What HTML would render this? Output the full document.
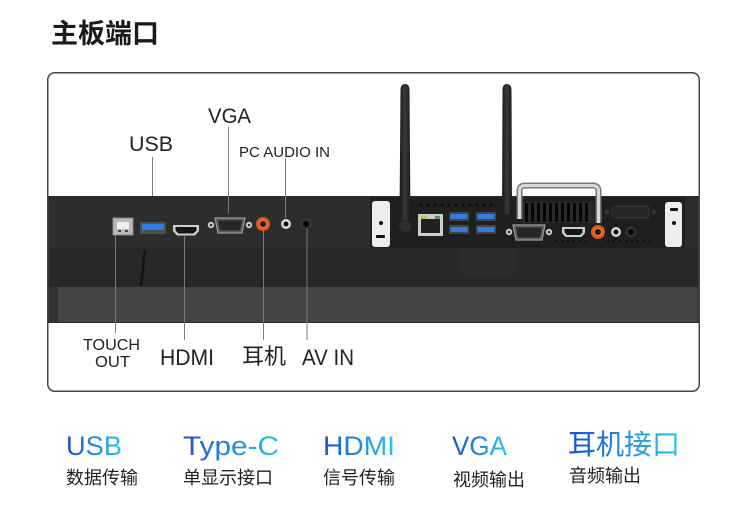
<!DOCTYPE html>
<html><head><meta charset="utf-8"><style>
html,body{margin:0;padding:0;background:#fff;width:750px;height:520px;overflow:hidden}
svg{display:block}
text{font-family:"Liberation Sans","Noto Sans CJK SC",sans-serif}
</style></head><body>
<svg width="750" height="520" viewBox="0 0 750 520" xmlns="http://www.w3.org/2000/svg">
<defs>
<linearGradient id="g" x1="0" x2="1" y1="0" y2="0"><stop offset="0" stop-color="#1a4fd6"/><stop offset="1" stop-color="#2cc6ec"/></linearGradient>
<linearGradient id="ant" x1="0" x2="1" y1="0" y2="0"><stop offset="0" stop-color="#1a1a1a"/><stop offset="0.5" stop-color="#3a3a3a"/><stop offset="1" stop-color="#1a1a1a"/></linearGradient>
<clipPath id="pc"><rect x="47" y="72" width="653" height="320" rx="7"/></clipPath>
</defs>

<text x="51" y="43" font-size="27" font-weight="bold" fill="#1a1a1a">主板端口</text>

<g clip-path="url(#pc)">
  <rect x="47" y="196" width="653" height="127" fill="#2d2d2d"/>
  <rect x="47" y="248" width="653" height="39" fill="#282828"/>
  <rect x="47" y="287" width="653" height="35" fill="#333"/>
  <rect x="58" y="287" width="639" height="35" fill="#444"/>
  <line x1="145" y1="250" x2="141" y2="286" stroke="#141414" stroke-width="2.5"/>
  <rect x="460" y="248" width="57" height="28" fill="#2b2b2b"/>
  <!-- module recess -->
  <rect x="370" y="197" width="315" height="51" fill="#1f1f1f"/>
</g>
<rect x="47.75" y="72.75" width="651.5" height="318.5" rx="7" fill="none" stroke="#444" stroke-width="1.5"/>

<!-- left ports -->
<rect x="113" y="218" width="20" height="17" fill="#b9b9b9" stroke="#8a8a8a"/>
<rect x="117" y="222" width="12" height="7" fill="#eee"/>
<rect x="118" y="230" width="3" height="2" fill="#444"/><rect x="125" y="230" width="3" height="2" fill="#444"/>
<rect x="140" y="222" width="26" height="12" rx="1" fill="#505050"/>
<rect x="142" y="224" width="22" height="6" fill="#2f7de0"/>
<path d="M173,225 h26 v6 l-4,4.5 h-18 l-4,-4.5 z" fill="#cfcfcf"/>
<path d="M175.5,227 h21 v3.5 l-3,3 h-15 l-3,-3 z" fill="#151515"/>
<circle cx="211" cy="225" r="3.2" fill="#ccc"/><circle cx="211" cy="225" r="1.3" fill="#333"/>
<circle cx="249" cy="225" r="3.2" fill="#ccc"/><circle cx="249" cy="225" r="1.3" fill="#333"/>
<path d="M215,218 h30 l-3,15 h-24 z" fill="#5a5a5a" stroke="#9a9a9a" stroke-width="1.2"/>
<path d="M218,220.5 h24 l-2,10 h-20 z" fill="#262626"/>
<circle cx="263" cy="224" r="7" fill="#e2581a"/><circle cx="263" cy="224" r="4.2" fill="#f08040"/><circle cx="263" cy="224" r="3" fill="#1a1a1a"/>
<circle cx="286" cy="224" r="5" fill="#dcdcdc"/><circle cx="286" cy="224" r="2.5" fill="#111"/>
<circle cx="306" cy="224" r="4.5" fill="#1a1a1a" stroke="#4a4a4a"/><circle cx="306" cy="224" r="2" fill="#000"/>

<!-- leader lines -->
<g stroke="#7a7a7a" stroke-width="1">
<line x1="152.5" y1="157" x2="152.5" y2="196"/>
<line x1="228.5" y1="127" x2="228.5" y2="214"/>
<line x1="285.5" y1="158" x2="285.5" y2="218"/>
<line x1="115.5" y1="235" x2="115.5" y2="333"/>
<line x1="184.5" y1="236" x2="184.5" y2="340"/>
<line x1="263.5" y1="231" x2="263.5" y2="340"/>
<line x1="307" y1="229" x2="307" y2="340"/>
</g>

<!-- labels -->
<g fill="#222">
<text x="208" y="123" font-size="21" textLength="43" lengthAdjust="spacingAndGlyphs">VGA</text>
<text x="129" y="151" font-size="21" textLength="44" lengthAdjust="spacingAndGlyphs">USB</text>
<text x="239" y="157" font-size="15" textLength="91" lengthAdjust="spacingAndGlyphs">PC AUDIO IN</text>
<text x="83" y="350" font-size="16" textLength="57" lengthAdjust="spacingAndGlyphs">TOUCH</text>
<text x="95" y="367" font-size="16" textLength="35" lengthAdjust="spacingAndGlyphs">OUT</text>
<text x="160" y="365" font-size="22" textLength="54" lengthAdjust="spacingAndGlyphs">HDMI</text>
<text x="242" y="364" font-size="22">耳机</text>
<text x="302" y="365" font-size="22" textLength="52" lengthAdjust="spacingAndGlyphs">AV IN</text>
</g>

<!-- right module -->
<rect x="372" y="201" width="18" height="46" rx="3" fill="#ececec"/>
<circle cx="381" cy="223" r="2" fill="#111"/>
<rect x="376" y="235" width="9" height="3" rx="1" fill="#111"/>
<rect x="665" y="202" width="17" height="45" rx="3" fill="#ececec"/>
<rect x="670" y="208" width="8" height="3" rx="1" fill="#111"/>
<circle cx="674" cy="223" r="2" fill="#111"/>
<g fill="#0a0a0a">
<circle cx="421" cy="205" r="1.4"/><circle cx="428" cy="205" r="1.4"/><circle cx="435" cy="205" r="1.4"/><circle cx="442" cy="205" r="1.4"/><circle cx="449" cy="205" r="1.4"/><circle cx="456" cy="205" r="1.4"/><circle cx="463" cy="205" r="1.4"/><circle cx="470" cy="205" r="1.4"/><circle cx="477" cy="205" r="1.4"/><circle cx="484" cy="205" r="1.4"/><circle cx="491" cy="205" r="1.4"/>
</g>
<!-- antennas -->
<circle cx="405" cy="226" r="6" fill="#2e2e2e"/>
<path d="M400.5,90 Q400.5,84 405,84 Q409.5,84 409.5,90 L410.5,220 H399.5 Z" fill="url(#ant)"/>
<path d="M502.5,90 Q502.5,84 507,84 Q511.5,84 511.5,90 L512,214 H502 Z" fill="url(#ant)"/>
<!-- RJ45 -->
<rect x="418" y="214" width="25" height="22" fill="#cdcdcd"/>
<rect x="421" y="219" width="19" height="14" fill="#222"/>
<rect x="421" y="216" width="5" height="3" fill="#c8c040"/>
<rect x="435" y="216" width="5" height="3" fill="#50a050"/>
<!-- 4 usb -->
<g>
<rect x="449" y="212" width="20" height="9" fill="#444"/><rect x="450.5" y="214" width="17" height="5" fill="#2f7de0"/>
<rect x="476" y="212" width="20" height="9" fill="#444"/><rect x="477.5" y="214" width="17" height="5" fill="#2f7de0"/>
<rect x="449" y="225" width="20" height="9" fill="#444"/><rect x="450.5" y="227" width="17" height="5" fill="#2f7de0"/>
<rect x="476" y="225" width="20" height="9" fill="#444"/><rect x="477.5" y="227" width="17" height="5" fill="#2f7de0"/>
</g>
<!-- vent -->
<rect x="522" y="202" width="72" height="21" fill="#2a2a2a"/>
<g fill="#050505">
<rect x="525" y="203" width="3" height="19"/><rect x="531" y="203" width="3" height="19"/><rect x="537" y="203" width="3" height="19"/><rect x="543" y="203" width="3" height="19"/><rect x="549" y="203" width="3" height="19"/><rect x="555" y="203" width="3" height="19"/><rect x="561" y="203" width="3" height="19"/><rect x="567" y="203" width="3" height="19"/><rect x="573" y="203" width="3" height="19"/><rect x="579" y="203" width="3" height="19"/><rect x="585" y="203" width="3" height="19"/>
</g>
<!-- handle -->
<path d="M519.5,219 V191 Q519.5,185.5 525,185.5 H593 Q598.5,185.5 598.5,191 V223" fill="none" stroke="#777" stroke-width="6"/>
<path d="M519.5,219 V191 Q519.5,185.5 525,185.5 H593 Q598.5,185.5 598.5,191 V223" fill="none" stroke="#d8d8d8" stroke-width="3"/>
<!-- faint vga -->
<rect x="612" y="206" width="37" height="12" rx="3" fill="#262626" stroke="#3a3a3a"/>
<circle cx="607" cy="212" r="2.5" fill="#333"/><circle cx="654" cy="212" r="2.5" fill="#333"/>
<!-- module VGA -->
<circle cx="509" cy="232" r="3.2" fill="#ccc"/><circle cx="509" cy="232" r="1.3" fill="#333"/>
<circle cx="549" cy="232" r="3.2" fill="#ccc"/><circle cx="549" cy="232" r="1.3" fill="#333"/>
<path d="M513,225 h32 l-3,15 h-26 z" fill="#5a5a5a" stroke="#9a9a9a" stroke-width="1.2"/>
<path d="M516,227.5 h26 l-2,10 h-22 z" fill="#262626"/>
<!-- module HDMI -->
<path d="M562,227 h23 v6 l-3.5,4 h-16 l-3.5,-4 z" fill="#cfcfcf"/>
<path d="M564.5,229 h18 v3.5 l-2.5,2.5 h-13 l-2.5,-2.5 z" fill="#151515"/>
<circle cx="598" cy="232" r="7" fill="#e2581a"/><circle cx="598" cy="232" r="4.2" fill="#f08040"/><circle cx="598" cy="232" r="3" fill="#1a1a1a"/>
<circle cx="616" cy="232" r="5" fill="#dcdcdc"/><circle cx="616" cy="232" r="2.5" fill="#111"/>
<circle cx="631" cy="232" r="4.5" fill="#1a1a1a" stroke="#4a4a4a"/><circle cx="631" cy="232" r="2" fill="#000"/>
<g fill="#0a0a0a">
<circle cx="556" cy="241" r="1"/><circle cx="562" cy="241" r="1"/><circle cx="568" cy="241" r="1"/><circle cx="574" cy="241" r="1"/><circle cx="580" cy="241" r="1"/><circle cx="586" cy="241" r="1"/><circle cx="608" cy="241" r="1"/><circle cx="614" cy="241" r="1"/><circle cx="620" cy="241" r="1"/><circle cx="626" cy="241" r="1"/><circle cx="632" cy="241" r="1"/><circle cx="638" cy="241" r="1"/><circle cx="644" cy="241" r="1"/><circle cx="650" cy="241" r="1"/>
</g>

<!-- bottom feature labels -->
<g fill="url(#g)">
<text x="66" y="455" font-size="27" textLength="56" lengthAdjust="spacingAndGlyphs">USB</text>
<text x="183" y="455" font-size="27" textLength="96" lengthAdjust="spacingAndGlyphs">Type-C</text>
<text x="323" y="455" font-size="27" textLength="72" lengthAdjust="spacingAndGlyphs">HDMI</text>
<text x="452" y="455" font-size="27" textLength="55" lengthAdjust="spacingAndGlyphs">VGA</text>
<text x="568" y="454" font-size="28">耳机接口</text>
</g>
<g fill="#222" font-size="18">
<text x="66" y="484">数据传输</text>
<text x="183" y="484">单显示接口</text>
<text x="323" y="484">信号传输</text>
<text x="453" y="486">视频输出</text>
<text x="569" y="482">音频输出</text>
</g>
</svg>
</body></html>
